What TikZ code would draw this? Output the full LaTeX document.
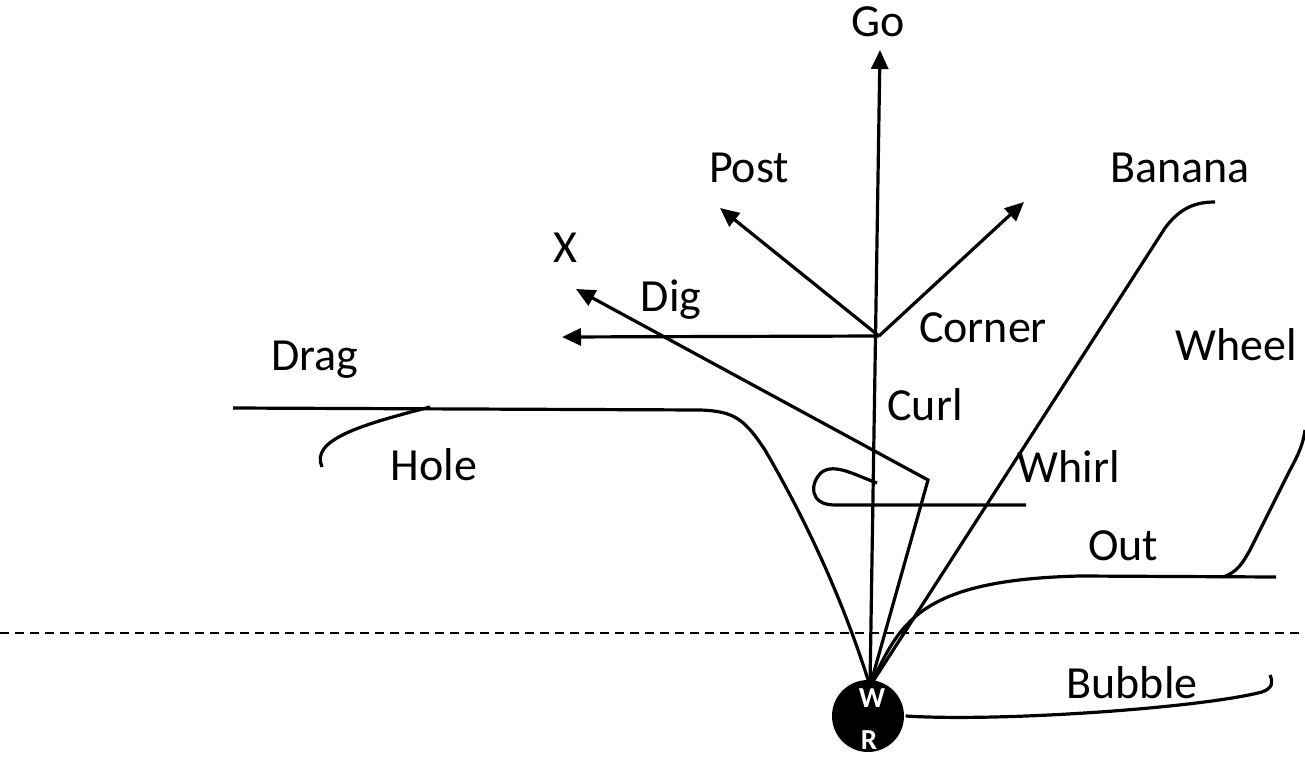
\documentclass[tikz,border=0pt]{standalone}
\usepackage{fontspec}
\setmainfont{Carlito}
\usetikzlibrary{arrows.meta}

\begin{document}
\begin{tikzpicture}
            [x=1pt, y=-1pt, line width=3.2pt, >={Triangle[length=19pt,width=17pt]},
             word/.style={anchor=base, inner sep=0pt, font=\fontsize{46}{52}\selectfont},
             balltext/.style={inner sep=0pt, text=white, font=\bfseries\fontsize{29}{31}\selectfont}]
            \useasboundingbox (0,0) rectangle (1305,757);

            % labels
            \node[word] (go) at (878, 37) {Go};
            \node[word] (post) at (749, 182) {Post};
            \node[word] (banana) at (1180, 182) {Banana};
            \node[word] (x) at (565, 262) {X};
            \node[word] (dig) at (671, 311) {Dig};
            \node[word] (corner) at (983, 342) {Corner};
            \node[word] (drag) at (315, 370) {Drag};
            \node[word] (wheel) at (1236, 360) {Wheel};
            \node[word] (curl) at (925, 420) {Curl};
            \node[word] (hole) at (434, 480) {Hole};
            \node[word] (whirl) at (1069, 482) {Whirl};
            \node[word] (out) at (1123, 560) {Out};
            \node[word] (bubble) at (1132, 698) {Bubble};

            % ball
            \node[circle, fill=black, inner sep=0pt, minimum size=72pt] (ball) at (868, 716) {};
            \node[balltext] (w) at (872, 698) {W};
            \node[balltext] (r) at (869, 740) {R};
            \coordinate (root) at (870, 686);

            % points
            \coordinate (gotip) at (880, 50);
            \coordinate (corn) at (879, 336);
            \coordinate (posttip) at (720, 208);
            \coordinate (cornertip) at (1024, 202);
            \coordinate (digtip) at (562, 337);
            \coordinate (kink) at (928, 480);
            \coordinate (xtip) at (576, 289);
            \coordinate (loop) at (877, 483);
            \coordinate (whirlend) at (1026, 505);
            \coordinate (dragstart) at (233, 408);
            \coordinate (holetop) at (430, 407);
            \coordinate (holeend) at (322, 467);
            \coordinate (bananaend) at (1215, 202);
            \coordinate (outend) at (1276, 577);
            \coordinate (wheelfoot) at (1223, 577);
            \coordinate (wheelend) at (1305, 430);
            \coordinate (bubbleend) at (1270, 675);

            \draw[dashed, line width=1.4pt, dash pattern=on 9pt off 6pt] (0,633) -- (1305,633);

            \draw[->] (root) -- (gotip);
            \draw[->] (corn) -- (posttip);
            \draw[->] (corn) -- (cornertip);
            \draw[->] (corn) -- (digtip);
            \draw[->] (root) -- (kink) -- (xtip);
            \draw (loop) .. controls (855,475) and (835,463) .. (822,472)
                  .. controls (810,482) and (808,505) .. (835,505) -- (whirlend);
            \draw (dragstart) -- (700,410) .. controls (735,411) and (745,420) .. (765,450)
                  .. controls (800,510) and (840,590) .. (root);
            \draw (holetop) .. controls (360,425) and (310,440) .. (holeend);
            \draw (root) -- (1165,228) .. controls (1180,208) and (1195,202) .. (bananaend);
            \draw (root) .. controls (900,625) and (915,580) .. (1080,576) -- (outend);
            \draw (wheelfoot) .. controls (1238,572) and (1243,562) .. (1250,550)
                  -- (1290,470) .. controls (1298,455) and (1303,445) .. (wheelend);
            \draw (ball.east) .. controls (1000,722) and (1200,708) .. (1262,692)
                  .. controls (1273,688) and (1273,682) .. (bubbleend);
\end{tikzpicture}
\end{document}
